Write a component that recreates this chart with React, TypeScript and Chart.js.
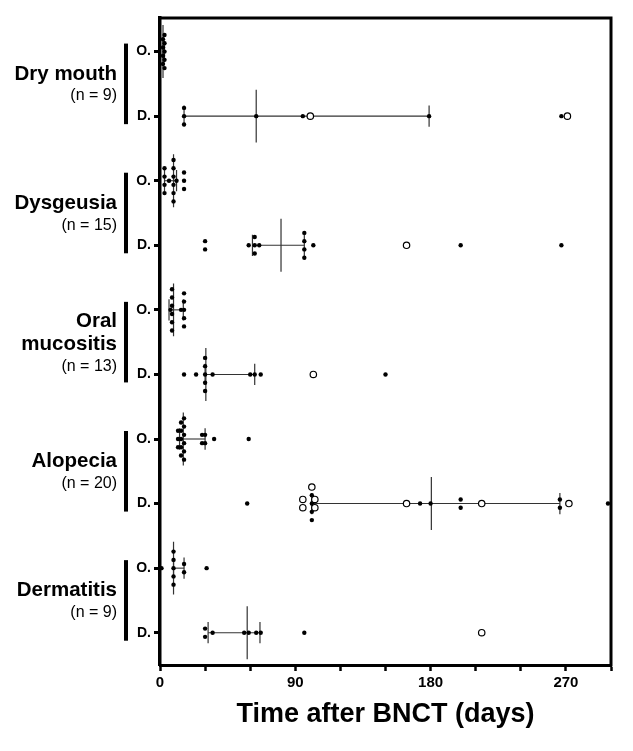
import React, { useEffect, useRef } from 'react';
import { Chart, registerables } from 'chart.js';

Chart.register(...registerables);

// ---- data ----
const categories: string[][] = [['Dry mouth'], ['Dysgeusia'], ['Oral', 'mucositis'], ['Alopecia'], ['Dermatitis']];
const patientCounts = [9, 15, 13, 20, 9];
const rowLabels = ['O.', 'D.'];
const xTickLabels = [0, 90, 180, 270];
const xTitle = 'Time after BNCT (days)';

// rows alternate: onset (O.), duration (D.) for each category
const filledDays: number[][] = [
  [2, 2, 2, 2, 3, 3, 3, 3, 3],
  [16, 16, 16, 64, 95, 179, 267],
  [3, 3, 3, 3, 6, 9, 9, 9, 9, 9, 9, 11, 16, 16, 16],
  [30, 30, 59, 63, 63, 63, 66, 96, 96, 96, 96, 102, 200, 267],
  [7, 8, 8, 8, 8, 8, 8, 14, 16, 16, 16, 16, 16],
  [16, 24, 30, 30, 30, 30, 30, 35, 60, 63, 67, 150],
  [12, 12, 12, 14, 14, 14, 14, 14, 16, 16, 16, 16, 16, 16, 28, 28, 30, 30, 36, 59],
  [58, 101, 101, 101, 101, 173, 180, 200, 200, 266, 266, 298],
  [1, 9, 9, 9, 9, 9, 16, 16, 31],
  [30, 30, 35, 56, 59, 64, 67, 96],
];
const openDays: number[][] = [
  [], [100, 271], [], [164], [], [102], [], [95, 95, 101, 103, 103, 164, 214, 272], [], [214],
];
const medians = [2, 64, 9, 80.5, 9, 30.5, 15.5, 180.5, 9, 58];
const q1s = [2, 16, 3, 61.5, 6, 30, 13, 101, 9, 32];
const q3s = [3, 179, 11, 96, 15.5, 63, 30, 266, 16, 66.5];

const FONT = '"Liberation Sans", Arial, Helvetica, sans-serif';
const STACK = 0.128; // vertical spacing of identical values (row units)

type Pt = { x: number; y: number };

function layoutRow(row: number, filled: number[], open: number[]) {
  const items = [
    ...open.map((v) => ({ v, open: true })),
    ...filled.map((v) => ({ v, open: false })),
  ];
  const groups = new Map<number, { v: number; open: boolean }[]>();
  items.forEach((it) => {
    if (!groups.has(it.v)) groups.set(it.v, []);
    groups.get(it.v)!.push(it);
  });
  const f: Pt[] = [];
  const o: Pt[] = [];
  groups.forEach((g) => {
    const n = g.length;
    g.forEach((it, k) => {
      const p = { x: it.v, y: row + (k - (n - 1) / 2) * STACK };
      (it.open ? o : f).push(p);
    });
  });
  return { f, o };
}

export default function App() {
  const ref = useRef<HTMLCanvasElement>(null);
  useEffect(() => {
    if (!ref.current) return;
    const filledPts: Pt[] = [];
    const openPts: Pt[] = [];
    filledDays.forEach((vals, r) => {
      const { f, o } = layoutRow(r, vals, openDays[r]);
      filledPts.push(...f);
      openPts.push(...o);
    });

    const seg = (a: Pt, b: Pt, w: number) => ({
      type: 'scatter' as const,
      data: [a, b],
      showLine: true,
      borderColor: '#333',
      borderWidth: w,
      pointRadius: 0,
      pointHoverRadius: 0,
      order: 2,
      clip: false as any,
    });
    const segs: any[] = [];
    medians.forEach((m, r) => {
      segs.push(seg({ x: q1s[r], y: r }, { x: q3s[r], y: r }, 1.1));
      segs.push(seg({ x: m, y: r - 0.41 }, { x: m, y: r + 0.41 }, 1.2));
      segs.push(seg({ x: q1s[r], y: r - 0.165 }, { x: q1s[r], y: r + 0.165 }, 1.2));
      segs.push(seg({ x: q3s[r], y: r - 0.165 }, { x: q3s[r], y: r + 0.165 }, 1.2));
    });

    const decor = {
      id: 'decor',
      beforeDraw(chart: any) {
        const c = chart.ctx;
        c.save();
        c.fillStyle = '#fff';
        c.fillRect(0, 0, chart.width, chart.height);
        c.restore();
      },
      afterDraw(chart: any) {
        const c = chart.ctx;
        const { left, right, top, bottom } = chart.chartArea;
        const y = chart.scales.y;
        c.save();
        c.strokeStyle = '#000';
        c.lineWidth = 3;
        c.beginPath();
        c.moveTo(left - 1.5, top);
        c.lineTo(right, top);
        c.lineTo(right, bottom + 1.5);
        c.stroke();
        c.fillStyle = '#000';
        categories.forEach((lines, i) => {
          const yO = y.getPixelForValue(2 * i);
          const yD = y.getPixelForValue(2 * i + 1);
          const mid = (yO + yD) / 2;
          c.fillRect(124, yO - 8, 4, yD - yO + 16);
          c.textAlign = 'right';
          c.textBaseline = 'alphabetic';
          c.font = `bold 20.5px ${FONT}`;
          const last = mid - 4 + (lines.length - 1) * 12;
          lines.forEach((t, k) => c.fillText(t, 117, last - (lines.length - 1 - k) * 23));
          c.font = `16px ${FONT}`;
          c.fillText(`(n = ${patientCounts[i]})`, 117, last + 20.5);
        });
        c.textAlign = 'center';
        c.font = `bold 27px ${FONT}`;
        c.fillText(xTitle, (left + right) / 2, 722);
        c.restore();
      },
    };

    const chart = new Chart(ref.current, {
      type: 'scatter',
      data: {
        datasets: [
          {
            data: openPts,
            pointRadius: 3.2,
            pointBackgroundColor: '#fff',
            pointBorderColor: '#000',
            pointBorderWidth: 1.2,
            order: 0,
            clip: false as any,
          },
          {
            data: filledPts,
            pointRadius: 2.2,
            pointBackgroundColor: '#000',
            pointBorderColor: '#000',
            pointBorderWidth: 0,
            order: 1,
            clip: false as any,
          },
          ...segs,
        ],
      },
      options: {
        animation: false,
        responsive: false,
        devicePixelRatio: 1,
        events: [],
        layout: { padding: { left: 0, top: 18, right: 22, bottom: 0 } },
        plugins: { legend: { display: false }, tooltip: { enabled: false } },
        scales: {
          x: {
            type: 'linear',
            min: 0,
            max: 300,
            position: 'bottom',
            afterFit: (s: any) => {
              s.height = 86;
            },
            ticks: {
              stepSize: 30,
              autoSkip: false,
              maxRotation: 0,
              padding: 3,
              color: '#000',
              font: { family: FONT, size: 15, weight: 'bold' },
              callback: (v: any) => (xTickLabels.includes(Number(v)) ? String(v) : ''),
            },
            grid: { drawOnChartArea: false, drawTicks: true, tickLength: 6, tickWidth: 2.5, tickColor: '#000' },
            border: { display: true, color: '#000', width: 3 },
          },
          y: {
            type: 'linear',
            min: -0.52,
            max: 9.5,
            reverse: true,
            afterFit: (s: any) => {
              s.width = 160;
            },
            afterBuildTicks: (s: any) => {
              s.ticks = filledDays.map((_, i) => ({ value: i }));
            },
            ticks: {
              padding: 3,
              color: '#000',
              font: { family: FONT, size: 14, weight: 'bold' },
              callback: (v: any) => rowLabels[Number(v) % 2],
            },
            grid: { drawOnChartArea: false, drawTicks: true, tickLength: 6, tickWidth: 3, tickColor: '#000' },
            border: { display: true, color: '#000', width: 3.5 },
          },
        },
      },
      plugins: [decor],
    } as any);
    return () => chart.destroy();
  }, []);

  return (
    <div style={{ position: 'absolute', left: 0, top: 0, width: 633, height: 751, background: '#fff' }}>
      <canvas ref={ref} width={633} height={751} style={{ display: 'block' }} />
    </div>
  );
}
